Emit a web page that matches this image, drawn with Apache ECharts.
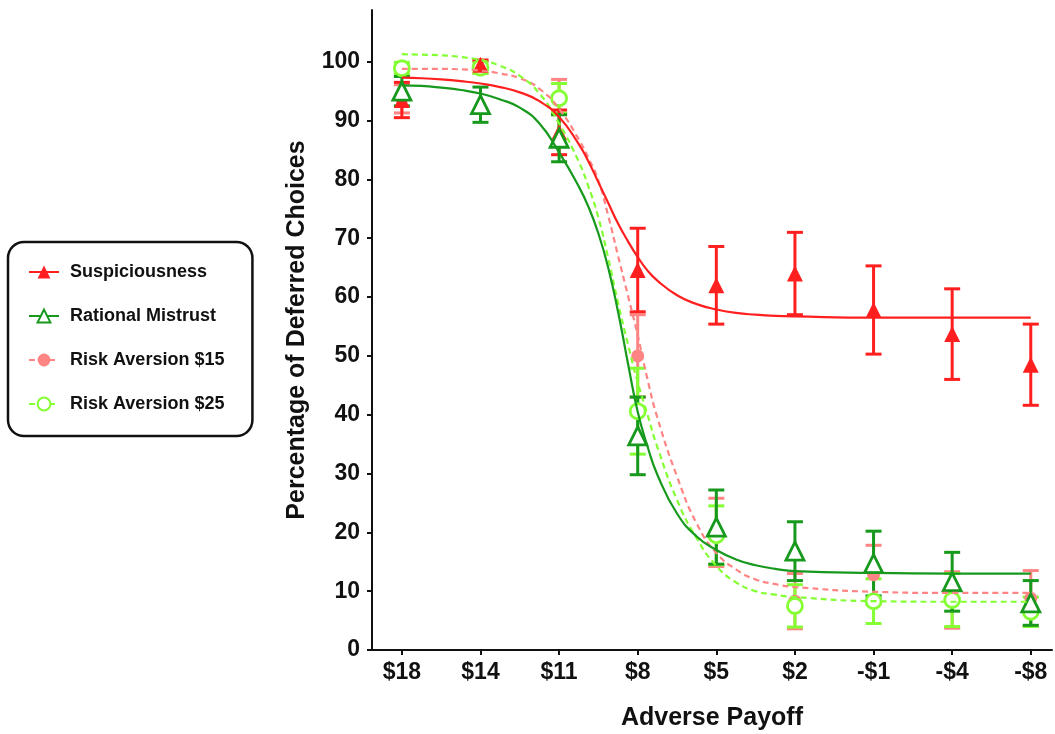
<!DOCTYPE html>
<html>
<head>
<meta charset="utf-8">
<script src="https://cdn.jsdelivr.net/npm/echarts@6/dist/echarts.min.js"></script>
<style>
  html, body { margin: 0; padding: 0; background: #ffffff; }
  #chart { width: 1055px; height: 734px; }
</style>
</head>
<body>
<div id="chart"></div>
<script>
// Payoff categories along the x axis (index 0..8)
const payoffLabels = ['$18', '$14', '$11', '$8', '$5', '$2', '-$1', '-$4', '-$8'];
const yTicks = [0, 10, 20, 30, 40, 50, 60, 70, 80, 90, 100];

// Observed means (% deferred) and error half-widths per payoff
const suspMean = [93.5, 99.5, 88.0, 64.6, 62.0, 64.0, 57.8, 53.7, 48.5];
const suspErr  = [3.0, 0.8, 3.8, 7.1, 6.6, 7.0, 7.5, 7.7, 6.9];

const ratMean = [95.0, 92.7, 87.0, 36.4, 20.9, 16.8, 14.7, 11.6, 8.0];
const ratErr  = [2.5, 3.0, 4.0, 6.6, 6.3, 5.0, 5.5, 5.0, 3.8];

const ra15Mean = [93.7, 99.0, 94.0, 50.0, 20.0, 8.3, 12.8, 8.5, 8.8];
const ra15Err  = [2.4, 1.0, 3.0, 7.0, 5.8, 4.7, 5.0, 4.8, 4.7];

const ra25Mean = [98.9, 99.0, 93.8, 40.6, 19.5, 7.5, 8.3, 8.5, 6.5];
const ra25Err  = [1.0, 1.0, 2.5, 7.3, 5.0, 3.6, 3.8, 4.5, 2.5];

// Fitted sigmoid curves, sampled as [payoff index, %]
const suspFit = [[0,97.3],[0.25,97.2],[0.5,97.0],[0.75,96.7],[1,96.3],[1.25,95.7],[1.5,94.8],[1.75,93.3],[2,90.6],[2.25,86.0],[2.375,83.0],[2.5,79.5],[2.625,76.0],[2.75,72.5],[2.875,69.5],[3,66.8],[3.125,64.5],[3.25,62.8],[3.5,60.3],[3.75,58.8],[4,57.9],[4.25,57.3],[4.5,57.0],[4.75,56.8],[5,56.7],[6,56.5],[7,56.5],[8,56.5]];
const ratFit  = [[0,96.0],[0.25,95.9],[0.5,95.6],[0.75,95.2],[1,94.6],[1.25,93.6],[1.5,92.2],[1.75,89.5],[2,84.6],[2.25,78.8],[2.375,75.3],[2.5,70.8],[2.625,65.0],[2.75,57.5],[2.875,48.8],[3,40.5],[3.125,34.6],[3.25,29.8],[3.5,23.2],[3.75,19.3],[4,17.0],[4.25,15.4],[4.5,14.4],[4.75,13.8],[5,13.4],[6,13.1],[7,13.0],[8,13.0]];
const ra15Fit = [[0,98.8],[0.25,98.8],[0.5,98.8],[0.75,98.7],[1,98.5],[1.25,98.0],[1.5,97.2],[1.75,95.4],[2,92.0],[2.25,86.8],[2.375,83.6],[2.5,79.8],[2.625,73.8],[2.75,67.0],[2.875,60.3],[3,53.5],[3.125,46.0],[3.25,39.5],[3.5,29.5],[3.75,21.5],[4,16.5],[4.25,13.7],[4.5,12.0],[4.75,11.2],[5,10.7],[6,9.9],[7,9.7],[8,9.7]];
const ra25Fit = [[0,101.3],[0.25,101.2],[0.5,101.1],[0.75,100.8],[1,100.3],[1.25,99.3],[1.5,97.6],[1.75,94.6],[2,89.5],[2.25,83.0],[2.375,78.7],[2.5,73.5],[2.625,66.6],[2.75,59.0],[2.875,52.0],[3,45.5],[3.125,40.0],[3.25,34.5],[3.5,25.5],[3.75,19.0],[4,14.3],[4.25,11.5],[4.5,10.0],[4.75,9.4],[5,9.0],[6,8.3],[7,8.2],[8,8.2]];

const RED = '#ff1f1f';
const DGREEN = '#16991c';
const PINK = '#ff8585';
const LGREEN = '#84ff33';
const FONT = '"Liberation Sans", Arial, sans-serif';
const INK = '#111111';

function points(means) { return means.map((v, i) => [i, v]); }
function bars(means, errs) { return means.map((v, i) => [i, v - errs[i], v + errs[i]]); }

function errorBars(color) {
  return function (params, api) {
    const x = api.value(0);
    const lo = api.coord([x, api.value(1)]);
    const hi = api.coord([x, api.value(2)]);
    const cap = 8;
    const style = { stroke: color, lineWidth: 3 };
    return {
      type: 'group',
      children: [
        { type: 'line', shape: { x1: lo[0], y1: lo[1], x2: hi[0], y2: hi[1] }, style: style },
        { type: 'line', shape: { x1: hi[0] - cap, y1: hi[1], x2: hi[0] + cap, y2: hi[1] }, style: style },
        { type: 'line', shape: { x1: lo[0] - cap, y1: lo[1], x2: lo[0] + cap, y2: lo[1] }, style: style }
      ]
    };
  };
}

// One group per condition: fitted curve, error bars, markers
function group(name, fit, means, errs, color, symbol, size, hollow, dashed) {
  const itemStyle = hollow
    ? { color: '#ffffff', borderColor: color, borderWidth: 2.8, opacity: 1 }
    : { color: color, opacity: 1 };
  return [
    {
      name: name, type: 'line', data: fit, smooth: 0.5,
      showSymbol: false, symbol: symbol, symbolSize: size,
      itemStyle: itemStyle,
      lineStyle: { color: color, width: 2.2, type: dashed ? [6, 4] : 'solid' },
      silent: true, animation: false
    },
    {
      name: name, type: 'custom', data: bars(means, errs),
      renderItem: errorBars(color), encode: { x: 0, y: [1, 2] },
      silent: true, animation: false
    },
    {
      name: name, type: 'scatter', data: points(means),
      symbol: symbol, symbolSize: size, itemStyle: itemStyle,
      silent: true, animation: false
    }
  ];
}

const series = [].concat(
  group('Risk Aversion $15', ra15Fit, ra15Mean, ra15Err, PINK, 'circle', 13, false, true),
  group('Risk Aversion $25', ra25Fit, ra25Mean, ra25Err, LGREEN, 'circle', 15, true, true),
  group('Suspiciousness', suspFit, suspMean, suspErr, RED, 'triangle', 16, false, false),
  group('Rational Mistrust', ratFit, ratMean, ratErr, DGREEN, 'triangle', 18, true, false)
);

const chart = echarts.init(document.getElementById('chart'), null, { renderer: 'canvas' });
chart.setOption({
  animation: false,
  backgroundColor: '#ffffff',
  grid: { left: 372, right: 3, top: 10, bottom: 84, containLabel: false, outerBoundsMode: 'none' },
  legend: {
    data: ['Suspiciousness', 'Rational Mistrust', 'Risk Aversion $15', 'Risk Aversion $25'],
    orient: 'vertical', left: 8, top: 242,
    padding: [21, 28, 23, 20],
    itemWidth: 30, itemHeight: 16, itemGap: 26,
    borderColor: INK, borderWidth: 2.5, borderRadius: 16,
    selectedMode: false,
    textStyle: { fontFamily: FONT, fontWeight: 'bold', fontSize: 18, color: INK, padding: [0, 0, 0, 6] }
  },
  xAxis: {
    type: 'value', min: -0.38, max: 8.27,
    name: 'Adverse Payoff', nameLocation: 'middle', nameGap: 56,
    nameTextStyle: { fontFamily: FONT, fontWeight: 'bold', fontSize: 25, color: INK },
    axisLine: { show: true, onZero: false, lineStyle: { color: INK, width: 2 } },
    axisTick: { show: true, length: 5, lineStyle: { color: INK, width: 2 }, customValues: payoffLabels.map((_, i) => i) },
    axisLabel: {
      customValues: payoffLabels.map((_, i) => i),
      formatter: v => payoffLabels[Math.round(v)],
      margin: 11, fontFamily: FONT, fontWeight: 'bold', fontSize: 23, color: INK
    },
    splitLine: { show: false }
  },
  yAxis: {
    type: 'value', min: 0, max: 108.8,
    name: 'Percentage of Deferred Choices', nameLocation: 'middle', nameGap: 62,
    nameTextStyle: { fontFamily: FONT, fontWeight: 'bold', fontSize: 25, color: INK },
    axisLine: { show: true, onZero: false, lineStyle: { color: INK, width: 2 } },
    axisTick: { show: true, length: 5, lineStyle: { color: INK, width: 2 }, customValues: yTicks },
    axisLabel: {
      customValues: yTicks, margin: 12,
      fontFamily: FONT, fontWeight: 'bold', fontSize: 23, color: INK
    },
    splitLine: { show: false }
  },
  series: series
});
</script>
</body>
</html>
